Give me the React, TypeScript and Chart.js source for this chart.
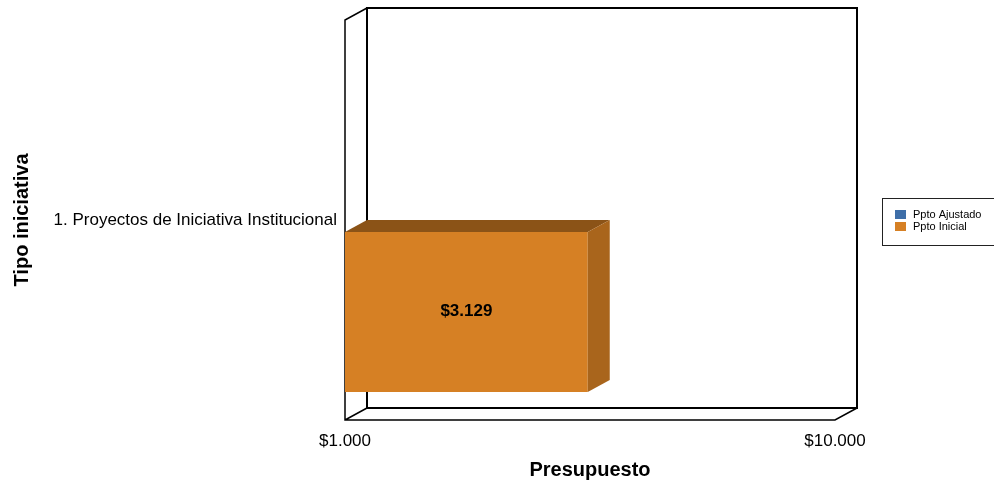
import React, { useEffect, useRef } from "react";
import { Chart, registerables } from "chart.js";

Chart.register(...registerables);

const categories = ["1. Proyectos de Iniciativa Institucional"];
const pptoAjustado: (number | null)[] = [null];
const pptoInicial: (number | null)[] = [3129];
const xTickValues = [1000, 10000];
const xMin = 1000;
const xMax = 10000;

const FONT = "'Liberation Sans', Arial, sans-serif";
const DX = 22;
const DY = 12;

const fmt = (v: number) =>
  "$" + String(Math.round(v)).replace(/\B(?=(\d{3})+(?!\d))/g, ".");

function shade(hex: string, f: number) {
  const n = parseInt(hex.slice(1), 16);
  const r = Math.round(((n >> 16) & 255) * f);
  const g = Math.round(((n >> 8) & 255) * f);
  const b = Math.round((n & 255) * f);
  return `rgb(${r},${g},${b})`;
}

const frame3d = {
  id: "frame3d",
  beforeDatasetsDraw(chart: any) {
    const { ctx, chartArea } = chart;
    const { left, right, top, bottom } = chartArea;
    ctx.save();
    ctx.strokeStyle = "#000";
    ctx.lineWidth = 2;
    ctx.strokeRect(left + DX, top - DY, right - left, bottom - top);
    ctx.lineWidth = 1.5;
    ctx.beginPath();
    ctx.moveTo(left + DX, top - DY);
    ctx.lineTo(left, top);
    ctx.lineTo(left, bottom);
    ctx.lineTo(right, bottom);
    ctx.lineTo(right + DX, bottom - DY);
    ctx.moveTo(left, bottom);
    ctx.lineTo(left + DX, bottom - DY);
    ctx.stroke();
    ctx.restore();
  },
  afterDatasetsDraw(chart: any) {
    const { ctx } = chart;
    ctx.save();
    chart.data.datasets.forEach((ds: any, di: number) => {
      const meta = chart.getDatasetMeta(di);
      meta.data.forEach((el: any, i: number) => {
        const v = ds.data[i];
        if (v == null) return;
        const p = el.getProps(["x", "y", "base", "height"], true);
        const x0 = p.base;
        const x1 = p.x;
        const y0 = p.y - p.height / 2;
        const y1 = p.y + p.height / 2;
        ctx.fillStyle = shade(ds.backgroundColor, 0.65);
        ctx.beginPath();
        ctx.moveTo(x0, y0);
        ctx.lineTo(x0 + DX, y0 - DY);
        ctx.lineTo(x1 + DX, y0 - DY);
        ctx.lineTo(x1, y0);
        ctx.closePath();
        ctx.fill();
        ctx.fillStyle = shade(ds.backgroundColor, 0.79);
        ctx.beginPath();
        ctx.moveTo(x1, y0);
        ctx.lineTo(x1 + DX, y0 - DY);
        ctx.lineTo(x1 + DX, y1 - DY);
        ctx.lineTo(x1, y1);
        ctx.closePath();
        ctx.fill();
        ctx.fillStyle = "#000";
        ctx.font = `bold 17px ${FONT}`;
        ctx.textAlign = "center";
        ctx.textBaseline = "middle";
        ctx.fillText(fmt(v), (x0 + x1) / 2, p.y - 1);
      });
    });
    ctx.restore();
  },
  afterDraw(chart: any) {
    const { ctx } = chart;
    ctx.save();
    ctx.strokeStyle = "#222";
    ctx.lineWidth = 1;
    ctx.fillStyle = "#fff";
    ctx.fillRect(882.5, 198.5, 120, 47);
    ctx.strokeRect(882.5, 198.5, 120, 47);
    ctx.font = `11px ${FONT}`;
    ctx.textBaseline = "middle";
    ctx.textAlign = "left";
    chart.data.datasets.forEach((ds: any, i: number) => {
      const y = 215 + i * 12;
      ctx.fillStyle = ds.backgroundColor;
      ctx.fillRect(895, y - 5, 11, 9);
      ctx.fillStyle = "#000";
      ctx.fillText(ds.label, 913, y);
    });
    ctx.restore();
  },
};

export default function App() {
  const ref = useRef<HTMLCanvasElement | null>(null);
  useEffect(() => {
    if (!ref.current) return;
    const chart = new Chart(ref.current, {
      type: "bar",
      data: {
        labels: categories,
        datasets: [
          { label: "Ppto Ajustado", data: pptoAjustado, backgroundColor: "#3E6EA8" } as any,
          { label: "Ppto Inicial", data: pptoInicial, backgroundColor: "#D68024" } as any,
        ],
      },
      options: {
        indexAxis: "y",
        animation: false,
        responsive: false,
        devicePixelRatio: 1,
        categoryPercentage: 0.92,
        barPercentage: 0.87,
        layout: { padding: { top: 20, right: 159, left: 0, bottom: 0 } },
        plugins: { legend: { display: false }, tooltip: { enabled: false } },
        scales: {
          x: {
            type: "logarithmic",
            min: xMin,
            max: xMax,
            grid: { display: false, drawTicks: false },
            border: { display: false },
            afterBuildTicks: (s: any) => {
              s.ticks = xTickValues.map((v) => ({ value: v }));
            },
            afterFit: (s: any) => {
              s.height = 62;
            },
            ticks: {
              autoSkip: false,
              maxRotation: 0,
              padding: 11,
              color: "#000",
              font: { family: FONT, size: 17 },
              callback: (v: any) => fmt(Number(v)),
            },
            title: {
              display: true,
              text: "Presupuesto",
              color: "#000",
              padding: { top: 0, bottom: 0 },
              font: { family: FONT, size: 20, weight: "bold" },
            },
          },
          y: {
            grid: { display: false, drawTicks: false },
            border: { display: false },
            afterFit: (s: any) => {
              s.width = 345;
            },
            ticks: {
              padding: 8,
              color: "#000",
              font: { family: FONT, size: 17 },
            },
            title: {
              display: true,
              text: "Tipo iniciativa",
              color: "#000",
              padding: { top: 10, bottom: 0 },
              font: { family: FONT, size: 20, weight: "bold" },
            },
          },
        },
      },
      plugins: [frame3d],
    } as any);
    return () => chart.destroy();
  }, []);
  return (
    <div style={{ position: "absolute", left: 0, top: 0, width: 994, height: 482, background: "#fff" }}>
      <canvas ref={ref} width={994} height={482} style={{ display: "block" }} />
    </div>
  );
}
